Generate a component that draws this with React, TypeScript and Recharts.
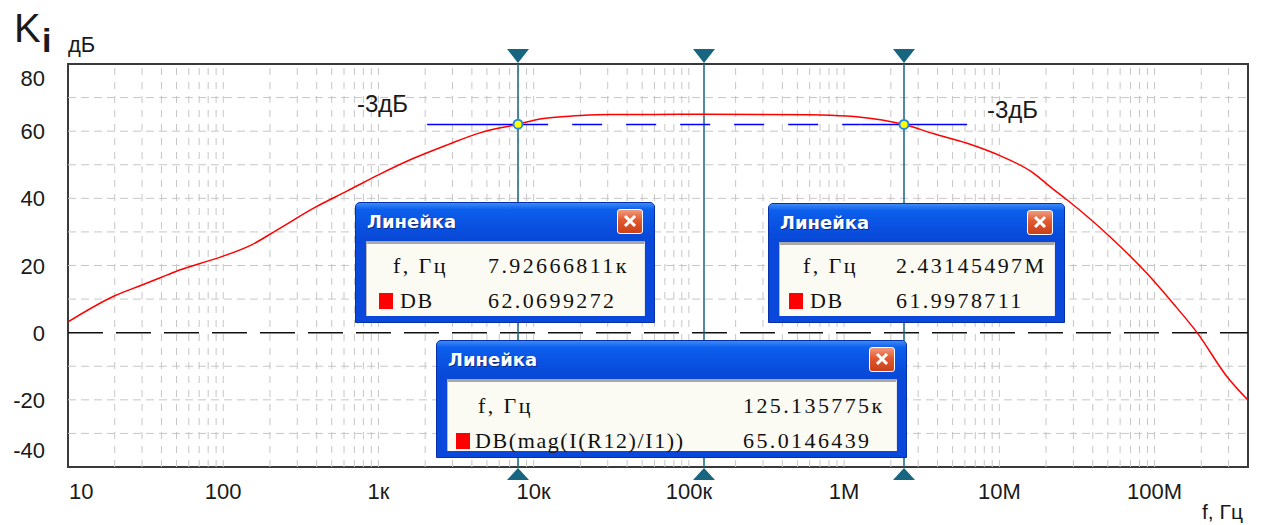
import React from "react";
import {
  LineChart,
  Line,
  XAxis,
  YAxis,
  ReferenceLine,
  ReferenceArea,
  ReferenceDot,
} from "recharts";

const W = 1265;
const H = 525;

// частота, Гц
const freqs = [
  10, 20, 30, 40, 50, 70, 100, 150, 230, 380, 630, 1000, 1700, 2800, 4500,
  7926.67, 11000, 15000, 20000, 31000, 60000, 125136, 300000, 600000, 1040000,
  1540000, 2431455, 3740000, 6200000, 10100000, 16500000, 21200000, 27400000,
  51800000, 89500000, 131800000, 188000000, 294000000, 400000000,
];
// Ki, дБ
const gainDb = [
  3.2, 11, 14.2, 16.5, 18.3, 20.5, 22.8, 26, 31, 37, 42.2, 47, 52, 56, 59.5,
  62.07, 63.6, 64.3, 64.7, 65, 65, 65.01, 65, 64.9, 64.5, 63.7, 62.0, 59.3,
  56.4, 52.7, 47.6, 43.5, 39.5, 28.5, 17.6, 8.7, 0, -13.2, -20.1,
];

const xTicks = [10, 100, 1e3, 1e4, 1e5, 1e6, 1e7, 1e8];
const xTickLabels = ["10", "100", "1к", "10к", "100к", "1M", "10M", "100M"];
const yTicks = [-40, -20, 0, 20, 40, 60, 80];
const yGrid = [-30, -20, -10, 10, 20, 30, 40, 50, 60, 70];
const xDomain = [10, 4e8];

// log grid: 2..10 in every decade
const xGrid: number[] = [];
for (let d = 10; d <= 1e8; d *= 10) {
  for (let m = 2; m <= 10; m++) {
    if (d * m < xDomain[1]) xGrid.push(d * m);
  }
}

// курсоры линейки
const cursorFreqs = [7926.66811, 125135.775, 2431454.97];
const markedFreqs = [7926.66811, 2431454.97];
const markedDb = [62.0699272, 61.9978711];
const levelDb = 62; // -3 дБ
const levelSolid = [
  [2060, 12400],
  [1270000, 6200000],
];
const levelDashed = [12400, 1270000];

// окна "Линейка"
const rulerFreqText = ["7.92666811к", "2.43145497M", "125.135775к"];
const rulerTraceText = ["DB", "DB", "DB(mag(I(R12)/I1))"];
const rulerValueText = ["62.0699272", "61.9978711", "65.0146439"];

const rulerBoxes = [
  { left: 355, top: 202, width: 300, height: 121, sq: 23, label: 37, trace: 44, value: 132, r1: 63, r2: 98 },
  { left: 768, top: 203, width: 297, height: 120, sq: 20, label: 34, trace: 41, value: 127, r1: 62, r2: 97 },
  { left: 436, top: 340, width: 471, height: 118, sq: 19, label: 41, trace: 38, value: 306, r1: 65, r2: 100 },
];

const data = freqs.map((f, i) => ({ f, db: gainDb[i] }));

const SANS = "'Liberation Sans', Arial, sans-serif";
const SERIF = "'Liberation Serif', 'Times New Roman', serif";
const CURSOR = "#17657f";

const XTick = (props: any) => {
  const { x, y, payload } = props;
  const i = xTicks.indexOf(payload.value);
  const first = i === 0;
  return (
    <text
      x={first ? x + 1 : x}
      y={y + 24}
      textAnchor={first ? "start" : "middle"}
      fontSize={22}
      fontFamily={SANS}
      fill="#1a1a1a"
    >
      {xTickLabels[i]}
    </text>
  );
};

const YTick = (props: any) => {
  const { x, y, payload } = props;
  let cy = y;
  if (payload.value === 80) cy = y + 14;
  if (payload.value === -40) cy = y - 17;
  return (
    <text
      x={x - 15}
      y={cy + 8}
      textAnchor="end"
      fontSize={22}
      fontFamily={SANS}
      fill="#1a1a1a"
    >
      {payload.value}
    </text>
  );
};

const CursorShape = (props: any) => {
  const { x1, y1, y2 } = props;
  const top = Math.min(y1, y2);
  const bottom = Math.max(y1, y2);
  return (
    <g>
      <line x1={x1} x2={x1} y1={top} y2={bottom} stroke={CURSOR} strokeWidth={1.5} />
      <polygon
        points={`${x1 - 11},${top - 15} ${x1 + 11},${top - 15} ${x1},${top - 1}`}
        fill={CURSOR}
      />
      <polygon
        points={`${x1 - 11},${bottom + 13} ${x1 + 11},${bottom + 13} ${x1},${bottom + 1}`}
        fill={CURSOR}
      />
    </g>
  );
};

const CloseButton = () => (
  <div
    style={{
      position: "absolute",
      right: 11,
      top: 6,
      width: 24,
      height: 23,
      borderRadius: 3,
      border: "1.5px solid #ffffff",
      background: "linear-gradient(180deg, #f09a7c 0%, #e0592f 45%, #c9401a 100%)",
    }}
  >
    <svg width={24} height={23} style={{ position: "absolute", left: 0, top: 0 }}>
      <line x1={7} y1={6} x2={17} y2={16} stroke="#fff" strokeWidth={3} />
      <line x1={17} y1={6} x2={7} y2={16} stroke="#fff" strokeWidth={3} />
    </svg>
  </div>
);

const RulerWindow = ({ index }: { index: number }) => {
  const b = rulerBoxes[index];
  const rowText: React.CSSProperties = {
    position: "absolute",
    height: 26,
    lineHeight: "26px",
    fontFamily: SERIF,
    fontSize: 22,
    letterSpacing: 2.4,
    color: "#111",
    whiteSpace: "nowrap",
  };
  return (
    <div
      style={{
        position: "absolute",
        left: b.left,
        top: b.top,
        width: b.width,
        height: b.height,
        boxSizing: "border-box",
        background: "#0a48dc",
        border: "1px solid #0630a8",
        borderRadius: "5px 5px 0 0",
      }}
    >
      <div
        style={{
          position: "absolute",
          left: 0,
          right: 0,
          top: 0,
          height: 36,
          borderRadius: "4px 4px 0 0",
          background:
            "linear-gradient(180deg, #3d8af7 0%, #0c5fec 18%, #0a53e3 55%, #0848d6 100%)",
        }}
      />
      <div
        style={{
          position: "absolute",
          left: 11,
          top: 8,
          color: "#ffffff",
          fontFamily: "'DejaVu Sans', Verdana, sans-serif",
          fontWeight: "bold",
          fontSize: 18,
          lineHeight: "22px",
          textShadow: "1px 1px 0 #0a2c8c",
        }}
      >
        Линейка
      </div>
      <CloseButton />
      <div
        style={{
          position: "absolute",
          left: 10,
          right: 9,
          top: 38,
          bottom: 6,
          boxSizing: "border-box",
          background: "#fbfbf4",
          borderTop: "3px solid #a9a9a9",
          borderLeft: "1px solid #b9b9b9",
          borderRight: "1px solid #e6e6e6",
        }}
      />
      <div style={{ ...rowText, left: b.label, top: b.r1 - 13 }}>f, Гц</div>
      <div style={{ ...rowText, left: b.value, top: b.r1 - 13 }}>
        {rulerFreqText[index]}
      </div>
      <div
        style={{
          position: "absolute",
          left: b.sq,
          top: b.r2 - 8,
          width: 14,
          height: 16,
          background: "#ff0000",
        }}
      />
      <div style={{ ...rowText, left: b.trace, top: b.r2 - 13, letterSpacing: 1.6 }}>
        {rulerTraceText[index]}
      </div>
      <div style={{ ...rowText, left: b.value, top: b.r2 - 13 }}>
        {rulerValueText[index]}
      </div>
    </div>
  );
};

export default function App() {
  return (
    <div
      style={{
        position: "absolute",
        left: 0,
        top: 0,
        width: W,
        height: H,
        background: "#ffffff",
        overflow: "hidden",
      }}
    >
      <LineChart
        width={W}
        height={H}
        data={data}
        margin={{ top: 64, right: 17, bottom: 0, left: 8 }}
      >
        <XAxis
          dataKey="f"
          type="number"
          scale="log"
          domain={xDomain}
          ticks={xTicks}
          interval={0}
          tick={<XTick />}
          tickLine={false}
          axisLine={false}
          height={58}
          allowDataOverflow
        />
        <YAxis
          type="number"
          domain={[-40, 80]}
          ticks={yTicks}
          interval={0}
          tick={<YTick />}
          tickLine={false}
          axisLine={false}
          width={60}
          allowDataOverflow
        />
        {yGrid.map((v) => (
          <ReferenceLine key={"h" + v} y={v} stroke="#c6c6c6" strokeDasharray="8 5" />
        ))}
        {xGrid.map((v) => (
          <ReferenceLine key={"v" + v} x={v} stroke="#c6c6c6" strokeDasharray="7 7" />
        ))}
        <ReferenceLine y={0} stroke="#111111" strokeWidth={1.5} strokeDasharray="35 13" />
        <ReferenceArea
          x1={xDomain[0]}
          x2={xDomain[1]}
          y1={-40}
          y2={80}
          fill="none"
          fillOpacity={0}
          stroke="#3a3a3a"
          strokeWidth={2}
        />
        {cursorFreqs.map((f) => (
          <ReferenceLine key={"c" + f} x={f} shape={<CursorShape />} />
        ))}
        {levelSolid.map((s) => (
          <ReferenceLine
            key={"l" + s[0]}
            segment={[
              { x: s[0], y: levelDb },
              { x: s[1], y: levelDb },
            ]}
            stroke="#0000ff"
            strokeWidth={1.5}
          />
        ))}
        <ReferenceLine
          segment={[
            { x: levelDashed[0], y: levelDb },
            { x: levelDashed[1], y: levelDb },
          ]}
          stroke="#0000ff"
          strokeWidth={1.5}
          strokeDasharray="0 24 30 0"
        />
        <Line
          dataKey="db"
          type="monotone"
          stroke="#ff0000"
          strokeWidth={1.5}
          dot={false}
          activeDot={false}
          isAnimationActive={false}
        />
        {markedFreqs.map((f, i) => (
          <ReferenceDot
            key={"d" + f}
            x={f}
            y={markedDb[i]}
            r={4.5}
            fill="#ffff00"
            stroke="#2a8ae0"
            strokeWidth={2}
          />
        ))}
      </LineChart>

      <svg
        width={W}
        height={H}
        style={{ position: "absolute", left: 0, top: 0, pointerEvents: "none" }}
      >
        <text x={14} y={42} fontSize={40} fontFamily={SANS} fill="#1a1a1a">
          K
        </text>
        <text x={42} y={52} fontSize={34} fontWeight="bold" fontFamily={SANS} fill="#1a1a1a">
          i
        </text>
        <text x={68} y={52} fontSize={22} fontFamily={SANS} fill="#1a1a1a">
          дБ
        </text>
        <text x={357} y={112} fontSize={24} fontFamily={SANS} fill="#1a1a1a">
          -3дБ
        </text>
        <text x={987} y={118} fontSize={24} fontFamily={SANS} fill="#1a1a1a">
          -3дБ
        </text>
        <text x={1202} y={519} fontSize={21} fontFamily={SANS} fill="#1a1a1a">
          f, Гц
        </text>
      </svg>

      {rulerBoxes.map((_, i) => (
        <RulerWindow key={i} index={i} />
      ))}
    </div>
  );
}
